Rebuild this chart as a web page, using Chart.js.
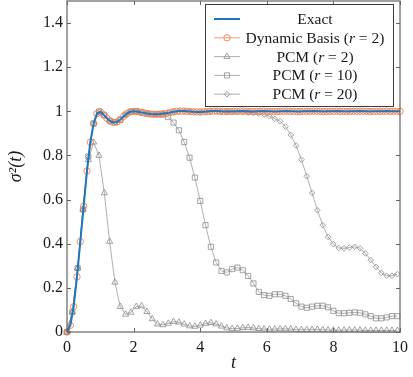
<!DOCTYPE html>
<html>
<head>
<meta charset="utf-8">
<script src="https://cdn.jsdelivr.net/npm/chart.js@4/dist/chart.umd.min.js"></script>
<style>
  html, body { margin: 0; padding: 0; background: #fff; }
  #wrap { width: 413px; height: 377px; }
</style>
</head>
<body>
<div id="wrap"><canvas id="varChart" width="413" height="377"></canvas></div>
<script>
// grille fine (pas 0.1) pour la solution exacte et la base dynamique
const tFine = [
  0, 0.1, 0.2, 0.3, 0.4, 0.5, 0.6, 0.7, 0.8, 0.9,
  1, 1.1, 1.2, 1.3, 1.4, 1.5, 1.6, 1.7, 1.8, 1.9,
  2, 2.1, 2.2, 2.3, 2.4, 2.5, 2.6, 2.7, 2.8, 2.9,
  3, 3.1, 3.2, 3.3, 3.4, 3.5, 3.6, 3.7, 3.8, 3.9,
  4, 4.1, 4.2, 4.3, 4.4, 4.5, 4.6, 4.7, 4.8, 4.9,
  5, 5.1, 5.2, 5.3, 5.4, 5.5, 5.6, 5.7, 5.8, 5.9,
  6, 6.1, 6.2, 6.3, 6.4, 6.5, 6.6, 6.7, 6.8, 6.9,
  7, 7.1, 7.2, 7.3, 7.4, 7.5, 7.6, 7.7, 7.8, 7.9,
  8, 8.1, 8.2, 8.3, 8.4, 8.5, 8.6, 8.7, 8.8, 8.9,
  9, 9.1, 9.2, 9.3, 9.4, 9.5, 9.6, 9.7, 9.8, 9.9,
  10
];

// grille PCM (pas 0.16)
const tCoarse = [
  0, 0.16, 0.32, 0.48, 0.64, 0.8, 0.96, 1.12, 1.28, 1.44,
  1.6, 1.76, 1.92, 2.08, 2.24, 2.4, 2.56, 2.72, 2.88, 3.04,
  3.2, 3.36, 3.52, 3.68, 3.84, 4, 4.16, 4.32, 4.48, 4.64,
  4.8, 4.96, 5.12, 5.28, 5.44, 5.6, 5.76, 5.92, 6.08, 6.24,
  6.4, 6.56, 6.72, 6.88, 7.04, 7.2, 7.36, 7.52, 7.68, 7.84,
  8, 8.16, 8.32, 8.48, 8.64, 8.8, 8.96, 9.12, 9.28, 9.44,
  9.6, 9.76, 9.92
];

const exactVar = [
  0, 0.03, 0.115, 0.25, 0.41, 0.57, 0.73, 0.86, 0.945, 0.99,
  0.998, 0.985, 0.968, 0.955, 0.95, 0.952, 0.962, 0.977, 0.99, 0.998,
  1.0, 0.999, 0.996, 0.993, 0.99, 0.988, 0.987, 0.987, 0.988, 0.99,
  0.992, 0.995, 0.998, 1.0, 1.001, 1.001, 1.0, 0.999, 0.998, 0.997,
  0.997, 0.998, 0.999, 1.0, 1.001, 1.001, 1.0, 0.999, 0.999, 0.999,
  1.0, 1.0, 1.001, 1.001, 1.0, 0.999, 0.999, 1.0, 1.0, 1.001,
  1.0, 1.0, 0.999, 0.999, 1.0, 1.0, 1.001, 1.0, 1.0, 0.999,
  0.999, 1.0, 1.0, 1.0, 1.001, 1.0, 1.0, 0.999, 1.0, 1.0,
  1.0, 1.001, 1.0, 1.0, 0.999, 1.0, 1.0, 1.0, 1.001, 1.0,
  1.0, 0.999, 1.0, 1.0, 1.0, 1.0, 1.001, 1.0, 1.0, 1.0,
  1.0
];

const dynBasisVar = [
  0, 0.03, 0.115, 0.25, 0.41, 0.57, 0.73, 0.86, 0.945, 0.99,
  0.998, 0.985, 0.968, 0.955, 0.95, 0.952, 0.962, 0.977, 0.99, 0.998,
  1.0, 0.999, 0.996, 0.993, 0.99, 0.988, 0.987, 0.987, 0.988, 0.99,
  0.992, 0.995, 0.998, 1.0, 1.001, 1.001, 1.0, 0.999, 0.998, 0.997,
  0.997, 0.998, 0.999, 1.0, 1.001, 1.001, 1.0, 0.999, 0.999, 0.999,
  1.0, 1.0, 1.001, 1.001, 1.0, 0.999, 0.999, 1.0, 1.0, 1.001,
  1.0, 1.0, 0.999, 0.999, 1.0, 1.0, 1.001, 1.0, 1.0, 0.999,
  0.999, 1.0, 1.0, 1.0, 1.001, 1.0, 1.0, 0.999, 1.0, 1.0,
  1.0, 1.001, 1.0, 1.0, 0.999, 1.0, 1.0, 1.0, 1.001, 1.0,
  1.0, 0.999, 1.0, 1.0, 1.0, 1.0, 1.001, 1.0, 1.0, 1.0,
  1.0
];

const pcmR2 = [
  0, 0.09, 0.29, 0.555, 0.78, 0.86, 0.80, 0.63, 0.41, 0.225,
  0.115, 0.08, 0.089, 0.115, 0.118, 0.092, 0.059, 0.036, 0.032, 0.039,
  0.047, 0.044, 0.035, 0.027, 0.025, 0.03, 0.038, 0.042, 0.036, 0.026,
  0.018, 0.015, 0.016, 0.019, 0.02, 0.018, 0.015, 0.013, 0.012, 0.013,
  0.014, 0.014, 0.013, 0.011, 0.01, 0.01, 0.011, 0.011, 0.01, 0.009,
  0.008, 0.008, 0.008, 0.009, 0.009, 0.008, 0.007, 0.007, 0.007, 0.007,
  0.007, 0.007, 0.006
];

const pcmR10 = [
  0, 0.09, 0.29, 0.555, 0.795, 0.945, 0.999, 0.982, 0.958, 0.95,
  0.962, 0.985, 0.998, 1.0, 0.995, 0.99, 0.987, 0.987, 0.985, 0.974,
  0.949, 0.914, 0.861, 0.79, 0.70, 0.594, 0.484, 0.386, 0.315, 0.277,
  0.27, 0.285, 0.292, 0.28, 0.254, 0.22, 0.182, 0.167, 0.164, 0.171,
  0.171, 0.164, 0.149, 0.13, 0.115, 0.11, 0.115, 0.119, 0.119, 0.112,
  0.096, 0.085, 0.085, 0.087, 0.089, 0.087, 0.08, 0.072, 0.062, 0.062,
  0.066, 0.072, 0.072
];

const pcmR20 = [
  0, 0.09, 0.29, 0.555, 0.795, 0.945, 0.999, 0.982, 0.958, 0.95,
  0.962, 0.985, 0.998, 1.0, 0.995, 0.99, 0.987, 0.987, 0.99, 0.993,
  0.998, 1.0, 1.001, 1.0, 0.998, 0.997, 0.998, 1.0, 1.0, 0.999,
  0.998, 0.997, 0.996, 0.995, 0.994, 0.992, 0.99, 0.986, 0.978, 0.966,
  0.955, 0.931, 0.893, 0.845, 0.781, 0.706, 0.63, 0.552, 0.484, 0.431,
  0.398, 0.381, 0.379, 0.383, 0.386, 0.379, 0.356, 0.326, 0.295, 0.268,
  0.255, 0.255, 0.262
];

const xTicks = [0, 2, 4, 6, 8, 10];
const yTicks = [0, 0.2, 0.4, 0.6, 0.8, 1, 1.2, 1.4];

const serif = "'Liberation Serif', 'DejaVu Serif', serif";
const blue = 'rgb(31,119,190)';
const orange = 'rgb(240,128,80)';
const gray = 'rgb(140,140,140)';

const toPoints = (xs, ys) => ys.map((v, i) => ({ x: xs[i], y: v }));

// cadre + graduations vers l'intérieur (style pgfplots)
const framePlugin = {
  id: 'framePlugin',
  afterDatasetsDraw(chart) {
    const { ctx, chartArea: a, scales } = chart;
    ctx.save();
    ctx.strokeStyle = 'rgb(100,100,100)';
    ctx.lineWidth = 1;
    ctx.beginPath();
    xTicks.forEach(v => {
      const px = Math.round(scales.x.getPixelForValue(v)) + 0.5;
      ctx.moveTo(px, a.bottom); ctx.lineTo(px, a.bottom - 4);
      ctx.moveTo(px, a.top); ctx.lineTo(px, a.top + 4);
    });
    yTicks.forEach(v => {
      const py = Math.round(scales.y.getPixelForValue(v)) + 0.5;
      ctx.moveTo(a.left, py); ctx.lineTo(a.left + 4, py);
      ctx.moveTo(a.right, py); ctx.lineTo(a.right - 4, py);
    });
    ctx.stroke();
    ctx.lineWidth = 1.2;
    ctx.strokeRect(a.left, a.top, a.right - a.left, a.bottom - a.top);
    ctx.restore();
  }
};

// légende encadrée, texte centré, "r" en italique
const legendPlugin = {
  id: 'legendPlugin',
  afterDraw(chart) {
    const { ctx, chartArea: a } = chart;
    const w = 188, h = 102;
    const x0 = a.right - 7 - w, y0 = a.top + 3;
    ctx.save();
    ctx.fillStyle = '#fff';
    ctx.fillRect(x0, y0, w, h);
    ctx.strokeStyle = 'rgb(60,60,60)';
    ctx.lineWidth = 1;
    ctx.strokeRect(x0 + 0.5, y0 + 0.5, w, h);

    chart.data.datasets.forEach((ds, i) => {
      const cy = y0 + 15 + i * 18.8;
      ctx.strokeStyle = ds.borderColor;
      ctx.lineWidth = ds.borderWidth;
      ctx.beginPath();
      ctx.moveTo(x0 + 9, cy);
      ctx.lineTo(x0 + 35, cy);
      ctx.stroke();
      if (ds.pointRadius > 0) {
        ctx.lineWidth = ds.pointBorderWidth;
        ctx.strokeStyle = ds.pointBorderColor;
        ctx.fillStyle = 'rgba(0,0,0,0)';
        Chart.helpers.drawPoint(ctx, {
          pointStyle: ds.pointStyle, radius: ds.pointRadius,
          rotation: 0, borderWidth: ds.pointBorderWidth
        }, x0 + 22, cy);
      }
      // morceaux de texte : normal / italique
      const parts = ds.label.split(/\b(r)\b/).filter(p => p !== '');
      const fonts = parts.map(p => (p === 'r' ? 'italic ' : '') + '15.5px ' + serif);
      let total = 0;
      const widths = parts.map((p, k) => { ctx.font = fonts[k]; const m = ctx.measureText(p).width; total += m; return m; });
      let tx = x0 + 110 - total / 2;
      ctx.fillStyle = '#1a1a1a';
      ctx.textBaseline = 'middle';
      parts.forEach((p, k) => {
        ctx.font = fonts[k];
        ctx.fillText(p, tx, cy + 1);
        tx += widths[k];
      });
    });
    ctx.restore();
  }
};

const pcmStyle = {
  showLine: true,
  borderColor: gray,
  borderWidth: 0.7,
  pointBorderColor: gray,
  pointBackgroundColor: 'rgba(0,0,0,0)',
  pointBorderWidth: 0.8,
  clip: false
};

const fmtTick = v => String(Number(v.toFixed(1)));

new Chart(document.getElementById('varChart'), {
  type: 'scatter',
  data: {
    datasets: [
      {
        label: 'Exact',
        data: toPoints(tFine, exactVar),
        showLine: true,
        borderColor: blue,
        borderWidth: 2,
        pointRadius: 0,
        pointBorderWidth: 0,
        clip: false
      },
      {
        label: 'Dynamic Basis (r = 2)',
        data: toPoints(tFine, dynBasisVar),
        showLine: true,
        borderColor: orange,
        borderWidth: 0.8,
        pointStyle: 'circle',
        pointRadius: 3.2,
        pointBorderColor: orange,
        pointBackgroundColor: 'rgba(0,0,0,0)',
        pointBorderWidth: 0.9,
        clip: false
      },
      Object.assign({ label: 'PCM (r = 2)', data: toPoints(tCoarse, pcmR2), pointStyle: 'triangle', pointRadius: 3.6 }, pcmStyle),
      Object.assign({ label: 'PCM (r = 10)', data: toPoints(tCoarse, pcmR10), pointStyle: 'rect', pointRadius: 3.6 }, pcmStyle),
      Object.assign({ label: 'PCM (r = 20)', data: toPoints(tCoarse, pcmR20), pointStyle: 'rectRot', pointRadius: 2.8 }, pcmStyle)
    ]
  },
  options: {
    responsive: false,
    animation: false,
    layout: { autoPadding: false, padding: { top: 1, right: 13, left: 0, bottom: 0 } },
    plugins: {
      legend: { display: false },
      tooltip: { enabled: false }
    },
    scales: {
      x: {
        type: 'linear',
        min: 0,
        max: 10,
        afterBuildTicks: s => { s.ticks = xTicks.map(v => ({ value: v })); },
        afterFit: s => { s.height = 45; s.paddingLeft = 0; s.paddingRight = 0; },
        grid: { display: false, drawTicks: false },
        border: { display: false },
        ticks: { padding: 6, color: '#1a1a1a', font: { family: serif, size: 16 }, callback: fmtTick },
        title: { display: true, text: 't', color: '#1a1a1a', padding: { top: 4, bottom: 3 }, font: { family: serif, size: 18, style: 'italic' } }
      },
      y: {
        type: 'linear',
        min: 0,
        max: 1.5,
        afterBuildTicks: s => { s.ticks = yTicks.map(v => ({ value: v })); },
        afterFit: s => { s.width = 67; s.paddingTop = 0; s.paddingBottom = 0; },
        grid: { display: false, drawTicks: false },
        border: { display: false },
        ticks: { padding: 4, color: '#1a1a1a', font: { family: serif, size: 16 }, callback: fmtTick },
        title: { display: true, text: 'σ²(t)', color: '#1a1a1a', padding: { top: 5, bottom: 4 }, font: { family: serif, size: 18, style: 'italic' } }
      }
    }
  },
  plugins: [framePlugin, legendPlugin]
});
</script>
</body>
</html>
